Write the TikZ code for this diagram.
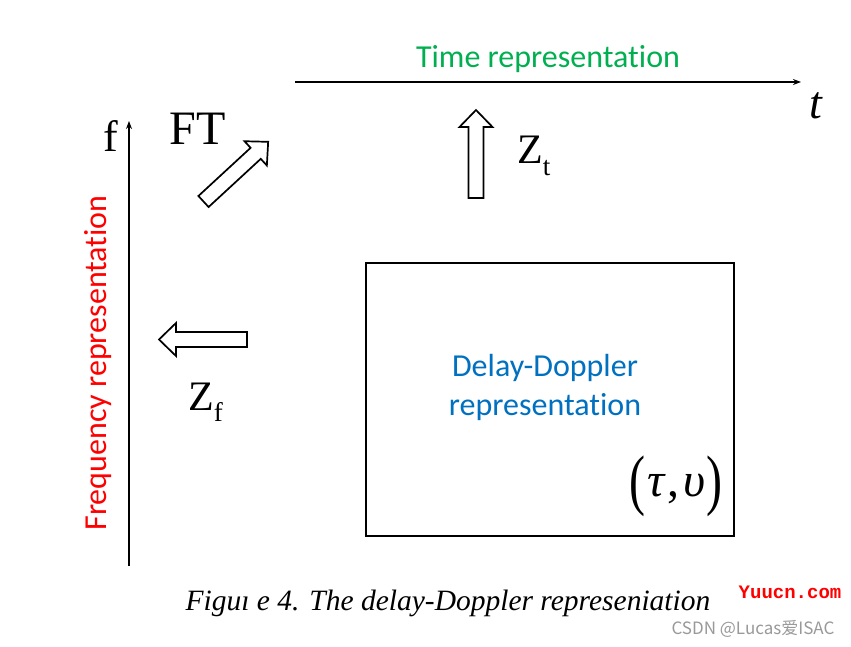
\documentclass[tikz,border=0pt]{standalone}
\usepackage{fontspec}
\setmainfont{Liberation Serif}
\newfontfamily\calibri[Ligatures={NoCommon}]{Carlito}
\newfontfamily\cjkf{Noto Sans CJK SC}
\newfontfamily\wmmono{Liberation Mono}
\definecolor{tgreen}{HTML}{00B050}
\definecolor{dblue}{HTML}{0070C0}
\definecolor{fred}{HTML}{FF0000}
\usetikzlibrary{arrows.meta}
\tikzset{
  axis/.style={line width=1.8pt,-{Stealth[length=8pt,width=6pt]}},
  lab/.style={inner sep=0pt,font=\fontsize{32}{36}\selectfont\calibri},
  serifbig/.style={inner sep=0pt,font=\fontsize{44}{48}\selectfont},
  barrow/.pic={\draw[line width=1.7pt,line join=miter,fill=white]
     (0,-7.5) -- (71,-7.5) -- (71,-16.5) -- (88,0) -- (71,16.5) -- (71,7.5) -- (0,7.5) -- cycle;}
}
\begin{document}
\begin{tikzpicture}[x=1pt,y=1pt]
\useasboundingbox (0,0) rectangle (851,-647);
\fill[white] (0,0) rectangle (851,-647);
% axes
\coordinate (t0) at (295,-82);
\coordinate (t1) at (801,-82);
\draw[axis] (t0) -- (t1);
\coordinate (f0) at (129,-566);
\coordinate (f1) at (129,-121);
\draw[axis] (f0) -- (f1);
% axis labels
\node[lab,text=tgreen] (timelab) at (548,-59) {Time representation};
\node[lab,text=fred,rotate=90] (freqlab) at (98,-363) {Frequency representation};
\node[serifbig,font=\fontsize{46}{48}\selectfont\itshape] (tlab) at (816,-106) {t};
\node[serifbig] (flab) at (111,-136) {f};
% block arrows
\pic[rotate=42.7] (ftarrow) at (203.5,-201.5) {barrow};
\pic[rotate=90] (ztarrow) at (476,-198) {barrow};
\pic[rotate=180] (zfarrow) at (247,-339.5) {barrow};
\node[inner sep=0pt,font=\fontsize{48}{50}\selectfont] (ft) at (198,-129) {FT};
\node[inner sep=0pt,font=\fontsize{42}{44}\selectfont,anchor=base west] (zt) at (517,-164) {Z\raisebox{-0.28em}{\fontsize{27}{28}\selectfont t}};
\node[inner sep=0pt,font=\fontsize{42}{44}\selectfont,anchor=base west] (zf) at (188,-410) {Z\raisebox{-0.28em}{\fontsize{27}{28}\selectfont f}};
% delay-doppler box
\node[draw,line width=1.8pt,inner sep=0pt,minimum width=368pt,minimum height=273pt] (dd) at (550,-399.5) {};
\node[lab,text=dblue,align=center,font=\fontsize{32}{39}\selectfont\calibri] (ddlab) at (545,-387) {Delay-Doppler\\representation};
\node[inner sep=0pt,font=\fontsize{48}{50}\selectfont] (tu) at (676,-486) {\raisebox{-0.12em}{\scalebox{1}[1.4]{(}}\kern2pt\textit{τ}\kern2pt,\kern4pt\textit{υ}\kern1pt\raisebox{-0.12em}{\scalebox{1}[1.4]{)}}};
% caption
\node[inner sep=0pt,font=\fontsize{29.5}{32}\selectfont\itshape] (cap) at (448,-603) {Figu\i\ e 4. The delay-Doppler represeniation};
% watermarks
\node[inner sep=0pt,text=fred,font=\fontsize{19}{20}\selectfont\wmmono\bfseries] (wm1) at (790,-592) {Yuucn.com};
\node[inner sep=0pt,text=black!40,font=\fontsize{17}{18}\selectfont\cjkf] (wm2) at (753,-629) {CSDN @Lucas爱ISAC};
\end{tikzpicture}
\end{document}
